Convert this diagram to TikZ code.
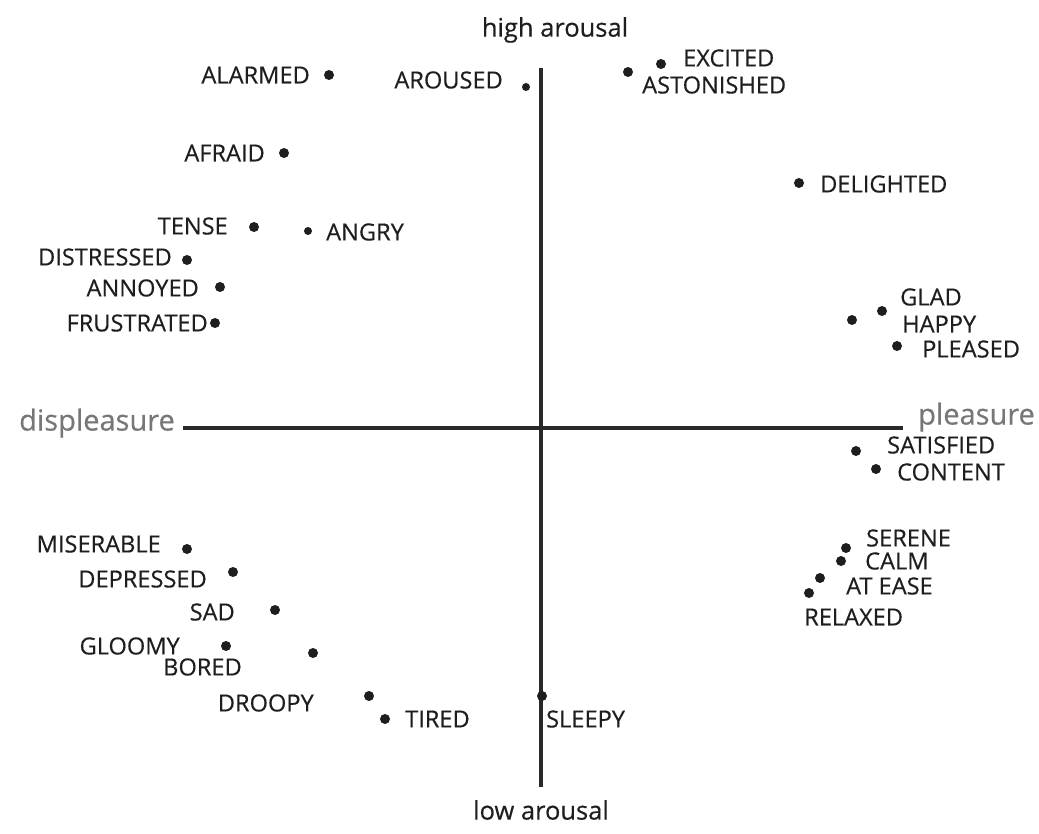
\documentclass[tikz,border=0pt]{standalone}
\usepackage{fontspec}
\setmainfont[FakeBold=0.4]{Open Sans}
\definecolor{ink}{HTML}{1E1E1E}
\definecolor{axisgray}{HTML}{777777}
\begin{document}
\begin{tikzpicture}[x=1pt,y=-1pt,
  dot/.style={circle,fill=ink,inner sep=0pt,minimum size=10pt},
  smalldot/.style={dot,minimum size=8pt},
  word/.style={inner sep=0pt,text=ink,font=\fontsize{23.6}{26}\selectfont},
  axislabel/.style={inner sep=0pt,text=ink,font=\fontsize{25.5}{28}\selectfont},
  polelabel/.style={inner sep=0pt,text=axisgray,font=\fontsize{29}{32}\selectfont},
  axis/.style={draw=ink!95!white,line width=3.4pt}]
\useasboundingbox (0,0) rectangle (1039,834);

% axes
\coordinate (top) at (541,68);
\coordinate (bottom) at (541,787);
\coordinate (left) at (183,428);
\coordinate (right) at (903,428);
\draw[axis] (top) -- (bottom);
\draw[axis] (left) -- (right);

\node[axislabel] (high) at (555,30) {high arousal};
\node[axislabel] (low) at (541,810) {low arousal};
\node[polelabel,anchor=east] (displeasure) at (175,423) {displeasure};
\node[polelabel,anchor=west] (pleasure) at (918,417) {pleasure};

% upper left quadrant
\node[dot] (alarmed) at (329,75) {};
\node[word,anchor=east] (alarmedL) at (310,75) {ALARMED};
\node[smalldot] (aroused) at (526,87) {};
\node[word,anchor=east] (arousedL) at (503,80) {AROUSED};
\node[dot] (afraid) at (284,153) {};
\node[word,anchor=east] (afraidL) at (265,153) {AFRAID};
\node[dot] (tense) at (254,227) {};
\node[word,anchor=east] (tenseL) at (228,226) {TENSE};
\node[smalldot] (angry) at (308,231) {};
\node[word,anchor=west] (angryL) at (326,232) {ANGRY};
\node[dot] (distressed) at (187,260) {};
\node[word,anchor=east] (distressedL) at (172,257) {DISTRESSED};
\node[dot] (annoyed) at (220,287) {};
\node[word,anchor=east] (annoyedL) at (199,288) {ANNOYED};
\node[dot] (frustrated) at (215,323) {};
\node[word,anchor=east] (frustratedL) at (208,323) {FRUSTRATED};

% upper right quadrant
\node[dot] (excited) at (661,64) {};
\node[word,anchor=west] (excitedL) at (683,58) {EXCITED};
\node[dot] (astonished) at (628,72) {};
\node[word,anchor=west] (astonishedL) at (642,85) {ASTONISHED};
\node[dot] (delighted) at (799,183) {};
\node[word,anchor=west] (delightedL) at (820,184) {DELIGHTED};
\node[dot] (glad) at (882,311) {};
\node[word,anchor=west] (gladL) at (900,297) {GLAD};
\node[dot] (happy) at (852,320) {};
\node[word,anchor=west] (happyL) at (902,324) {HAPPY};
\node[dot] (pleased) at (897,346) {};
\node[word,anchor=west] (pleasedL) at (922,349) {PLEASED};

% lower right quadrant
\node[dot] (satisfied) at (856,451) {};
\node[word,anchor=west] (satisfiedL) at (887,445) {SATISFIED};
\node[dot] (content) at (876,469) {};
\node[word,anchor=west] (contentL) at (897,472) {CONTENT};
\node[dot] (serene) at (846,548) {};
\node[word,anchor=west] (sereneL) at (866,538) {SERENE};
\node[dot] (calm) at (841,561) {};
\node[word,anchor=west] (calmL) at (865,561) {CALM};
\node[dot] (atease) at (820,578) {};
\node[word,anchor=west] (ateaseL) at (846,586) {AT EASE};
\node[dot] (relaxed) at (809,593) {};
\node[word,anchor=west] (relaxedL) at (804,617) {RELAXED};
\node[dot] (sleepy) at (542,696) {};
\node[word,anchor=west] (sleepyL) at (546,719) {SLEEPY};

% lower left quadrant
\node[dot] (miserable) at (187,549) {};
\node[word,anchor=east] (miserableL) at (161,544) {MISERABLE};
\node[dot] (depressed) at (233,572) {};
\node[word,anchor=east] (depressedL) at (207,579) {DEPRESSED};
\node[dot] (sad) at (275,610) {};
\node[word,anchor=east] (sadL) at (235,612) {SAD};
\node[dot] (gloomy) at (226,646) {};
\node[word,anchor=east] (gloomyL) at (180,646) {GLOOMY};
\node[dot] (bored) at (313,653) {};
\node[word,anchor=east] (boredL) at (242,667) {BORED};
\node[dot] (droopy) at (369,696) {};
\node[word,anchor=east] (droopyL) at (314,703) {DROOPY};
\node[dot] (tired) at (385,719) {};
\node[word,anchor=west] (tiredL) at (405,719) {TIRED};
\end{tikzpicture}
\end{document}
